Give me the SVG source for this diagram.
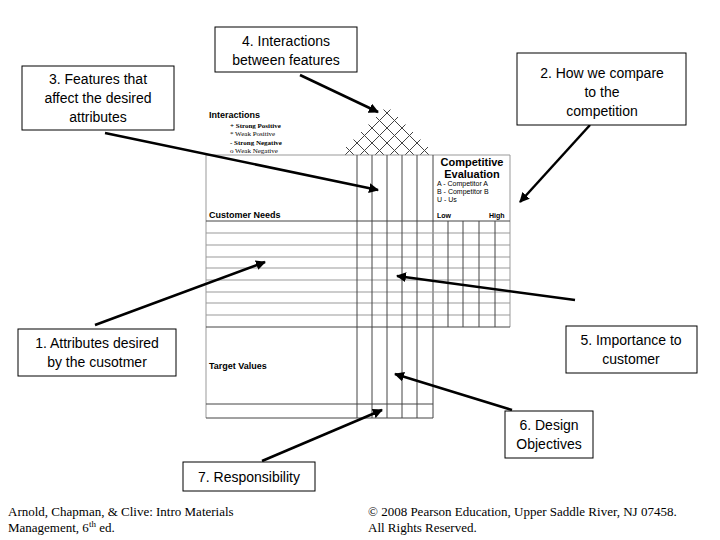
<svg xmlns="http://www.w3.org/2000/svg" width="720" height="540" viewBox="0 0 720 540">
<style>
.box{fill:#fff;stroke:#000;stroke-width:1}
.lbl{font-family:"Liberation Sans",Arial,sans-serif;font-size:14px;text-anchor:middle}
.g{stroke:#999;stroke-width:1;fill:none}
.d{stroke:#444;stroke-width:1;fill:none}
.a{stroke:#000;stroke-width:2.5;fill:none;marker-end:url(#ah)}
.sm{font-family:"Liberation Sans",Arial,sans-serif;font-size:9px;font-weight:bold}
.ce{font-family:"Liberation Sans",Arial,sans-serif;font-size:11px;font-weight:bold;text-anchor:middle}
.tn{font-family:"Liberation Sans",Arial,sans-serif;font-size:7px}
.sr{font-family:"Liberation Serif","Times New Roman",serif;font-size:7px}
.ft{font-family:"Liberation Serif","Times New Roman",serif;font-size:13px}
</style>
<defs>
<marker id="ah" viewBox="0 0 10 10" refX="9" refY="5" markerWidth="4" markerHeight="4" orient="auto"><path d="M0,0L10,5L0,10z" fill="#000"/></marker>
<clipPath id="roof"><path d="M338,155L387,106L436,155z"/></clipPath>
</defs>
<rect width="720" height="540" fill="#fff"/>
<g id="house">
<g clip-path="url(#roof)" class="d" stroke-width="0.8">
<path d="M300,155l60,-60M315,155l60,-60M330,155l60,-60M345,155l60,-60M360,155l60,-60M375,155l60,-60M390,155l60,-60M405,155l60,-60M420,155l60,-60"/>
<path d="M474,155l-60,-60M459,155l-60,-60M444,155l-60,-60M429,155l-60,-60M414,155l-60,-60M399,155l-60,-60M384,155l-60,-60M369,155l-60,-60M354,155l-60,-60"/>
</g>
<path class="g" d="M206,155H510M206,155V418M510,155V327"/>
<path class="d" d="M206,221H510M206,327H510M206,418H433M206,404H433M433,155V418"/>
<path class="g" d="M206,233H510M206,245H510M206,257H510M206,268H510M206,280H510M206,292H510M206,303H510M206,315H510"/>
<path class="d" d="M357,155V418M372,155V418M387,155V418M402,155V418M417,155V418"/>
<path class="d" d="M448,221V327M463,221V327M479,221V327M495,221V327"/>
<text class="sm" x="209" y="118">Interactions</text>
<text class="sr" x="230" y="128" font-weight="bold">+ Strong Positive</text>
<text class="sr" x="230" y="136">* Weak Positive</text>
<text class="sr" x="230" y="145" font-weight="bold">- Strong Negative</text>
<text class="sr" x="230" y="153">o Weak Negative</text>
<text class="ce" x="472" y="166">Competitive</text>
<text class="ce" x="472" y="178">Evaluation</text>
<text class="tn" x="437" y="186">A - Competitor A</text>
<text class="tn" x="437" y="194">B - Competitor B</text>
<text class="tn" x="437" y="202">U - Us</text>
<text class="tn" x="437" y="218" font-weight="bold">Low</text>
<text class="tn" x="489" y="218" font-weight="bold">High</text>
<text class="sm" x="209" y="218">Customer Needs</text>
<text class="sm" x="209" y="369">Target Values</text>
</g>
<g id="connectors">
<path class="a" d="M300,75L378,112"/>
<path class="a" d="M105,133L378,190"/>
<path class="a" d="M590,125L520,202"/>
<path class="a" d="M95,325L265,262"/>
<path class="a" d="M575,300L397,276"/>
<path class="a" d="M512,410L395,374"/>
<path class="a" d="M262,461L382,410"/>
</g>
<g id="n4"><rect class="box" x="215" y="27" width="142" height="45"/><text class="lbl" x="286" y="46">4. Interactions</text><text class="lbl" x="286" y="65">between features</text></g>
<g id="n3"><rect class="box" x="22" y="66" width="152" height="64"/><text class="lbl" x="98" y="84">3. Features that</text><text class="lbl" x="98" y="103">affect the desired</text><text class="lbl" x="98" y="122">attributes</text></g>
<g id="n2"><rect class="box" x="517" y="53" width="169" height="72"/><text class="lbl" x="602" y="78">2. How  we compare</text><text class="lbl" x="602" y="97">to the</text><text class="lbl" x="602" y="116">competition</text></g>
<g id="n1"><rect class="box" x="18" y="329" width="158" height="47"/><text class="lbl" x="97" y="348">1. Attributes desired</text><text class="lbl" x="97" y="367">by the cusotmer</text></g>
<g id="n5"><rect class="box" x="566" y="326" width="131" height="47"/><text class="lbl" x="631" y="345">5. Importance to</text><text class="lbl" x="631" y="364">customer</text></g>
<g id="n6"><rect class="box" x="505" y="411" width="88" height="47"/><text class="lbl" x="549" y="430">6. Design</text><text class="lbl" x="549" y="449">Objectives</text></g>
<g id="n7"><rect class="box" x="183" y="462" width="132" height="29"/><text class="lbl" x="249" y="482">7. Responsibility</text></g>
<g id="footer">
<text class="ft" x="8" y="516">Arnold, Chapman, &amp; Clive: Intro Materials</text>
<text class="ft" x="8" y="532">Management, 6<tspan font-size="9" dy="-5">th</tspan><tspan dy="5"> ed.</tspan></text>
<text class="ft" x="368" y="516">© 2008 Pearson Education, Upper Saddle River, NJ 07458.</text>
<text class="ft" x="368" y="532">All Rights Reserved.</text>
</g>
</svg>
